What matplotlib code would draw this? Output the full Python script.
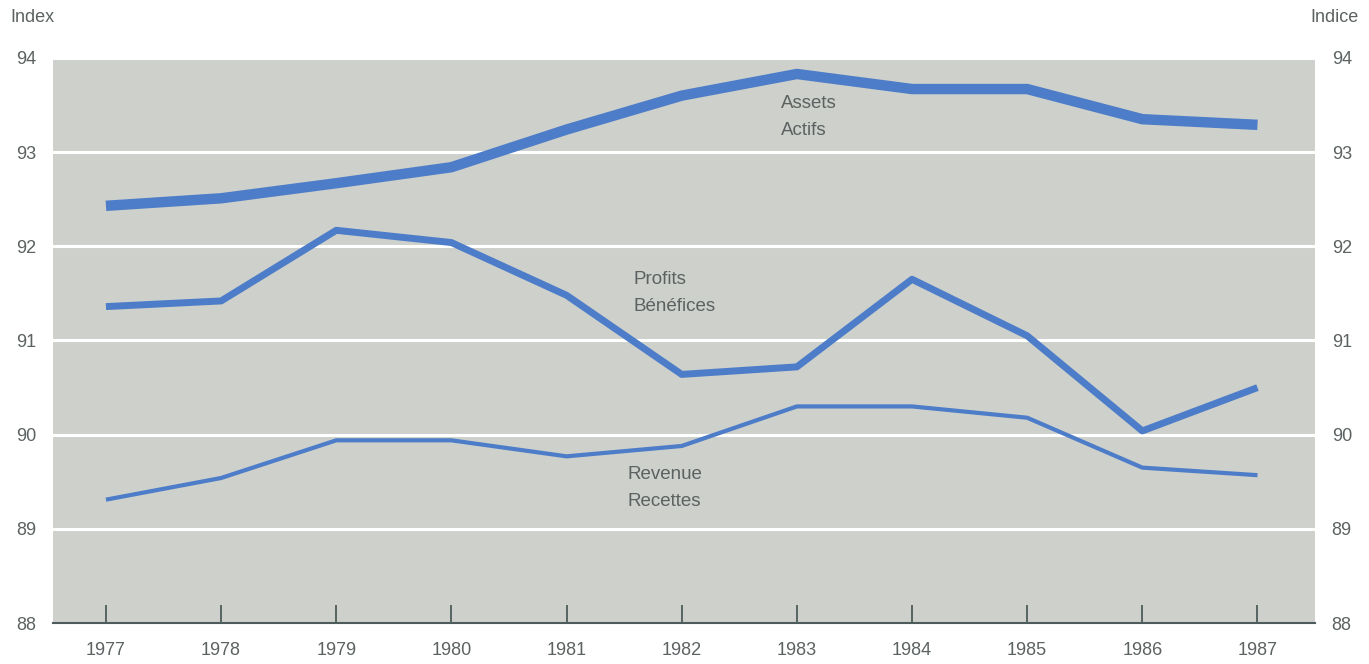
import matplotlib.pyplot as plt

years = [1977, 1978, 1979, 1980, 1981, 1982, 1983, 1984, 1985, 1986, 1987]
assets = [92.43, 92.51, 92.67, 92.84, 93.24, 93.60, 93.83, 93.67, 93.67, 93.35, 93.29]
profits = [91.36, 91.42, 92.17, 92.04, 91.48, 90.64, 90.72, 91.65, 91.05, 90.04, 90.50]
revenue = [89.31, 89.54, 89.94, 89.94, 89.77, 89.88, 90.30, 90.30, 90.18, 89.65, 89.57]
yticks = [88, 89, 90, 91, 92, 93, 94]

blue = '#4d7cc8'
text_gray = '#5c6262'
plt.rcParams['font.family'] = ['Liberation Sans', 'DejaVu Sans']

fig = plt.figure(figsize=(13.69, 6.64), dpi=100)
ax = fig.add_axes([0.0387, 0.0617, 0.9219, 0.851])
ax.set_facecolor('#cdd0cb')

ax.plot(years, assets, color=blue, lw=7.5, solid_capstyle='butt', solid_joinstyle='round')
ax.plot(years, profits, color=blue, lw=5.0, solid_capstyle='butt', solid_joinstyle='round')
ax.plot(years, revenue, color=blue, lw=3.0, solid_capstyle='butt', solid_joinstyle='round')

ax.set_xlim(1976.54, 1987.5)
ax.set_ylim(88, 94)
ax.set_yticks(yticks)
ax.set_xticks(years)
ax.yaxis.grid(True, color='white', lw=2.2)
ax.set_axisbelow(True)

for s in ['top', 'left', 'right']:
    ax.spines[s].set_visible(False)
ax.spines['bottom'].set_color('#4d5c5a')
ax.spines['bottom'].set_linewidth(1.5)

ax.tick_params(axis='x', direction='in', length=13, width=1.3, color='#4d5c5a',
               labelsize=13, labelcolor=text_gray, pad=14)
ax.tick_params(axis='y', length=0, labelsize=13, labelcolor=text_gray,
               labelleft=True, labelright=True, pad=12)

label_kw = dict(fontsize=13.5, color=text_gray, va='top', ha='left', linespacing=1.8)
ax.text(1982.86, 93.61, 'Assets\nActifs', **label_kw)
ax.text(1981.58, 91.74, 'Profits\nBénéfices', **label_kw)
ax.text(1981.53, 89.67, 'Revenue\nRecettes', **label_kw)

fig.text(10 / 1369, 1 - 18 / 664, 'Index', fontsize=13, color=text_gray,
         ha='left', va='center')
fig.text(1359 / 1369, 1 - 18 / 664, 'Indice', fontsize=13, color=text_gray,
         ha='right', va='center')

fig.savefig('out.png', dpi=100)
